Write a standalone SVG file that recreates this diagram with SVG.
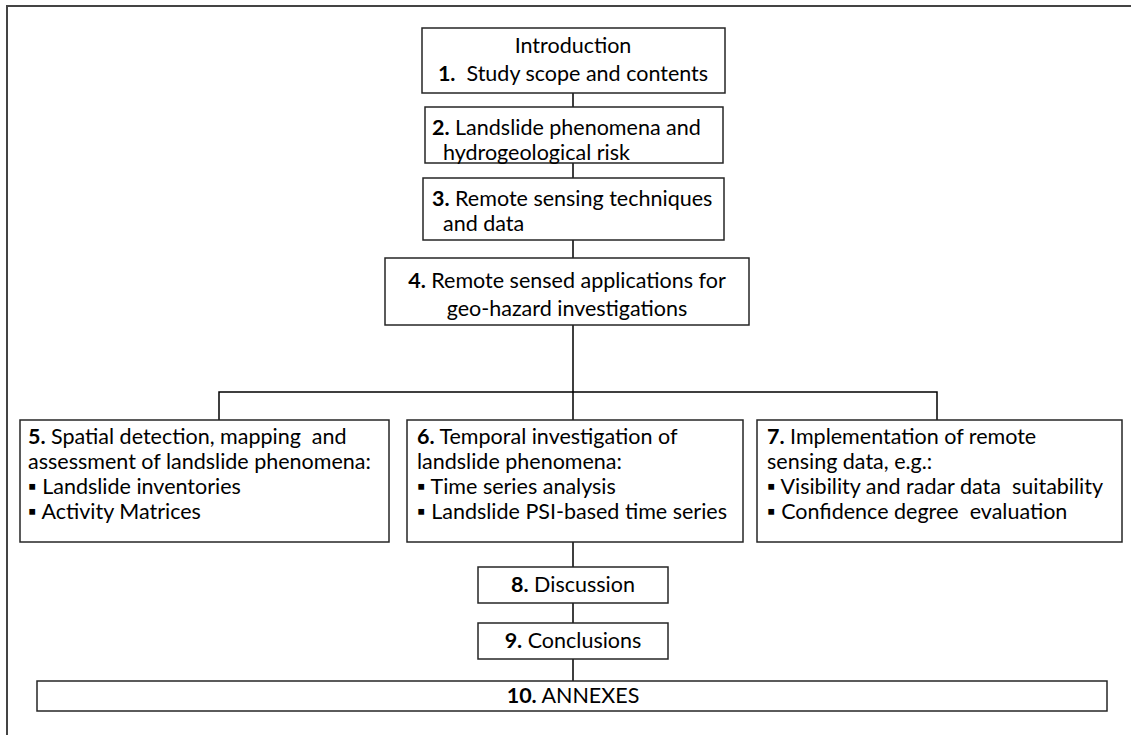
<svg xmlns="http://www.w3.org/2000/svg" width="1131" height="735" viewBox="0 0 1131 735">
  <style>
    .box { fill: #ffffff; stroke: #262626; stroke-width: 1.5; }
    .wire { fill: none; stroke: #000000; stroke-width: 1.5; }
    text { font-family: Lato, "Open Sans", "Liberation Sans", sans-serif; font-size: 21.5px; fill: #000000; white-space: pre; }
    .c { text-anchor: middle; }
    .b { font-weight: bold; }
  </style>
  <rect width="1131" height="735" fill="#ffffff"/>
  <!-- page frame -->
  <path d="M7,735 V6 H1131" fill="none" stroke="#444444" stroke-width="2"/>

  <g id="connectors">
    <path class="wire" d="M573,93 V107 M573,163 V178 M573,240 V258 M573,325 V420 M219,420 V392 H937 V420 M573,542 V567 M573,603 V623 M573,659 V681"/>
  </g>

  <g id="n1">
    <rect class="box" x="422" y="28" width="303" height="65"/>
    <text class="c" x="573" y="53">Introduction</text>
    <text class="c" x="573" y="81"><tspan class="b">1.</tspan>  Study scope and contents</text>
  </g>
  <g id="n2">
    <rect class="box" x="425" y="107" width="298" height="56"/>
    <text x="432" y="135"><tspan class="b">2.</tspan> Landslide phenomena and</text>
    <text x="443" y="160">hydrogeological risk</text>
  </g>
  <g id="n3">
    <rect class="box" x="423" y="178" width="301" height="62"/>
    <text x="432" y="206"><tspan class="b">3.</tspan> Remote sensing techniques</text>
    <text x="443" y="231">and data</text>
  </g>
  <g id="n4">
    <rect class="box" x="385" y="258" width="364" height="67"/>
    <text class="c" x="567" y="288"><tspan class="b">4.</tspan> Remote sensed applications for</text>
    <text class="c" x="567" y="316">geo-hazard investigations</text>
  </g>
  <g id="n5">
    <rect class="box" x="20" y="420" width="369" height="122"/>
    <text x="28" y="444"><tspan class="b">5.</tspan> Spatial detection, mapping  and</text>
    <text x="28" y="469">assessment of landslide phenomena:</text>
    <text x="28" y="494">▪ Landslide inventories</text>
    <text x="28" y="519">▪ Activity Matrices</text>
  </g>
  <g id="n6">
    <rect class="box" x="407" y="420" width="336" height="122"/>
    <text x="417" y="444"><tspan class="b">6.</tspan> Temporal investigation of</text>
    <text x="417" y="469">landslide phenomena:</text>
    <text x="417" y="494">▪ Time series analysis</text>
    <text x="417" y="519">▪ Landslide PSI-based time series</text>
  </g>
  <g id="n7">
    <rect class="box" x="757" y="420" width="365" height="122"/>
    <text x="767" y="444"><tspan class="b">7.</tspan> Implementation of remote</text>
    <text x="767" y="469">sensing data, e.g.:</text>
    <text x="767" y="494">▪ Visibility and radar data  suitability</text>
    <text x="767" y="519">▪ Confidence degree  evaluation</text>
  </g>
  <g id="n8">
    <rect class="box" x="478" y="567" width="190" height="36"/>
    <text class="c" x="573" y="592"><tspan class="b">8.</tspan> Discussion</text>
  </g>
  <g id="n9">
    <rect class="box" x="478" y="623" width="190" height="36"/>
    <text class="c" x="573" y="648"><tspan class="b">9.</tspan> Conclusions</text>
  </g>
  <g id="n10">
    <rect class="box" x="37" y="681" width="1070" height="30"/>
    <text class="c" x="573" y="703"><tspan class="b">10.</tspan> ANNEXES</text>
  </g>
</svg>
